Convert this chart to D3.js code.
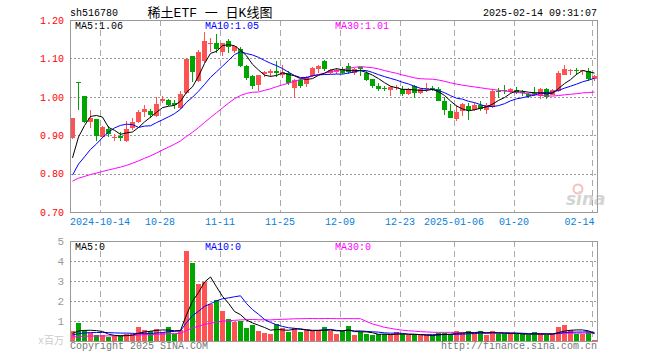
<!DOCTYPE html>
<html>
<head>
<meta charset="utf-8">
<script src="https://cdn.jsdelivr.net/npm/d3@7"></script>
<style>
  body { margin: 0; background: #fff; }
  text { font-family: "Liberation Mono", "DejaVu Sans Mono", monospace; }
</style>
</head>
<body>
<svg id="chart" width="660" height="360"></svg>
<script>
// trading days shown on the chart
const dates = [
  '2024-09-30',
  '2024-10-08', '2024-10-09', '2024-10-10', '2024-10-11',
  '2024-10-14', '2024-10-15', '2024-10-16', '2024-10-17', '2024-10-18',
  '2024-10-21', '2024-10-22', '2024-10-23', '2024-10-24', '2024-10-25',
  '2024-10-28', '2024-10-29', '2024-10-30', '2024-10-31', '2024-11-01',
  '2024-11-04', '2024-11-05', '2024-11-06', '2024-11-07', '2024-11-08',
  '2024-11-11', '2024-11-12', '2024-11-13', '2024-11-14', '2024-11-15',
  '2024-11-18', '2024-11-19', '2024-11-20', '2024-11-21', '2024-11-22',
  '2024-11-25', '2024-11-26', '2024-11-27', '2024-11-28', '2024-11-29',
  '2024-12-02', '2024-12-03', '2024-12-04', '2024-12-05', '2024-12-06',
  '2024-12-09', '2024-12-10', '2024-12-11', '2024-12-12', '2024-12-13',
  '2024-12-16', '2024-12-17', '2024-12-18', '2024-12-19', '2024-12-20',
  '2024-12-23', '2024-12-24', '2024-12-25', '2024-12-26', '2024-12-27',
  '2024-12-30', '2024-12-31', '2025-01-02', '2025-01-03',
  '2025-01-06', '2025-01-07', '2025-01-08', '2025-01-09', '2025-01-10',
  '2025-01-13', '2025-01-14', '2025-01-15', '2025-01-16', '2025-01-17',
  '2025-01-20', '2025-01-21', '2025-01-22', '2025-01-23', '2025-01-24',
  '2025-01-27',
  '2025-02-05', '2025-02-06', '2025-02-07',
  '2025-02-10', '2025-02-11', '2025-02-12', '2025-02-13', '2025-02-14'
];

const open = [
  0.892, 1.039, 1.001, 0.934, 0.941, 0.896, 0.915, 0.894, 0.898, 0.886,
  0.918, 0.935, 0.960, 0.964, 0.951, 0.990, 0.992, 0.985, 0.971, 1.010,
  1.107, 1.042, 1.093, 1.136, 1.140, 1.117, 1.146, 1.117, 1.125, 1.081,
  1.055, 1.029, 1.058, 1.062, 1.068, 1.056, 1.062, 1.023, 1.045, 1.032,
  1.053, 1.072, 1.094, 1.062, 1.065, 1.072, 1.081, 1.062, 1.077, 1.062,
  1.046, 1.029, 1.022, 1.016, 1.023, 1.020, 1.007, 1.029, 1.010, 1.022,
  1.022, 1.021, 0.988, 0.964, 0.941, 0.964, 0.975, 0.964, 0.978, 0.964,
  0.975, 1.016, 1.017, 1.012, 1.019, 1.012, 1.007, 1.010, 1.001, 1.020,
  1.007, 1.014, 1.058, 1.070, 1.069, 1.067, 1.068, 1.047
];
const high = [
  0.946, 1.039, 1.002, 0.965, 0.942, 0.923, 0.925, 0.903, 0.909, 0.938,
  0.945, 0.966, 0.979, 0.967, 0.999, 1.001, 0.994, 0.991, 1.016, 1.101,
  1.107, 1.121, 1.170, 1.153, 1.163, 1.141, 1.151, 1.133, 1.129, 1.082,
  1.056, 1.057, 1.068, 1.073, 1.094, 1.082, 1.068, 1.047, 1.047, 1.053,
  1.077, 1.084, 1.095, 1.073, 1.074, 1.077, 1.088, 1.075, 1.078, 1.066,
  1.047, 1.036, 1.027, 1.027, 1.031, 1.027, 1.023, 1.031, 1.023, 1.036,
  1.027, 1.025, 0.999, 0.980, 0.978, 0.984, 0.984, 0.983, 0.988, 0.983,
  1.021, 1.023, 1.031, 1.023, 1.025, 1.019, 1.010, 1.025, 1.023, 1.023,
  1.020, 1.068, 1.082, 1.072, 1.075, 1.070, 1.075, 1.057
];
const low = [
  0.889, 0.966, 0.932, 0.918, 0.886, 0.893, 0.895, 0.886, 0.885, 0.883,
  0.914, 0.933, 0.947, 0.945, 0.948, 0.984, 0.975, 0.968, 0.969, 1.008,
  1.038, 1.039, 1.089, 1.116, 1.113, 1.105, 1.114, 1.113, 1.077, 1.045,
  1.020, 1.016, 1.051, 1.051, 1.051, 1.049, 1.032, 0.997, 1.023, 1.025,
  1.052, 1.063, 1.068, 1.060, 1.060, 1.059, 1.059, 1.058, 1.053, 1.042,
  1.022, 1.016, 1.014, 1.003, 1.019, 1.001, 1.004, 0.998, 1.007, 1.012,
  1.014, 0.988, 0.952, 0.945, 0.936, 0.950, 0.940, 0.962, 0.964, 0.955,
  0.972, 0.997, 1.006, 1.010, 1.006, 1.001, 0.997, 1.001, 0.995, 0.994,
  1.005, 1.012, 1.056, 1.058, 1.058, 1.058, 1.042, 1.042
];
const close = [
  0.944, 1.036, 0.934, 0.945, 0.898, 0.922, 0.903, 0.896, 0.892, 0.917,
  0.934, 0.961, 0.969, 0.953, 0.981, 0.995, 0.979, 0.980, 1.007, 1.098,
  1.066, 1.117, 1.145, 1.139, 1.125, 1.140, 1.130, 1.131, 1.082, 1.051,
  1.029, 1.056, 1.064, 1.066, 1.062, 1.064, 1.036, 1.045, 1.030, 1.051,
  1.075, 1.079, 1.072, 1.071, 1.069, 1.062, 1.066, 1.073, 1.071, 1.045,
  1.027, 1.021, 1.020, 1.025, 1.025, 1.006, 1.021, 1.012, 1.020, 1.024,
  1.020, 0.990, 0.964, 0.947, 0.960, 0.981, 0.965, 0.978, 0.967, 0.978,
  1.016, 1.014, 1.015, 1.021, 1.012, 1.010, 1.002, 1.008, 1.020, 0.998,
  1.019, 1.062, 1.073, 1.071, 1.067, 1.069, 1.047, 1.055
];
// volume in millions of shares
const volume = [
  0.48, 0.88, 0.53, 0.42, 0.28, 0.28, 0.20, 0.23, 0.28, 0.37,
  0.37, 0.70, 0.53, 0.48, 0.58, 0.47, 0.68, 0.35, 0.55, 4.50,
  3.88, 2.83, 2.97, 1.83, 2.03, 1.50, 1.10, 0.93, 1.02, 0.67,
  0.80, 0.52, 0.38, 0.33, 0.87, 0.67, 0.43, 0.67, 0.43, 0.55,
  0.50, 0.50, 0.68, 0.50, 0.37, 0.48, 0.73, 0.28, 0.45, 0.33,
  0.28, 0.33, 0.33, 0.33, 0.43, 0.33, 0.28, 0.28, 0.28, 0.28,
  0.28, 0.40, 0.40, 0.33, 0.48, 0.40, 0.48, 0.40, 0.48, 0.28,
  0.48, 0.37, 0.37, 0.37, 0.33, 0.33, 0.28, 0.43, 0.37, 0.28,
  0.37, 0.68, 0.78, 0.57, 0.37, 0.37, 0.45, 0.07
];

// sessions before 2024-09-30 (off the chart), estimated so the moving
// averages start where the picture shows them; these are never drawn
const priorClose = [
  0.800, 0.797, 0.795, 0.792, 0.790, 0.787, 0.784, 0.781, 0.778, 0.775,
  0.772, 0.768, 0.764, 0.760, 0.757, 0.754, 0.751, 0.749, 0.747, 0.745,
  0.748, 0.745, 0.752, 0.755, 0.755, 0.765, 0.785, 0.826, 0.885
];
const priorVolume = [
  0.16, 0.14, 0.15, 0.17, 0.15, 0.13, 0.14, 0.16, 0.15, 0.14,
  0.13, 0.15, 0.16, 0.14, 0.15, 0.17, 0.16, 0.15, 0.14, 0.15,
  0.20, 0.21, 0.22, 0.23, 0.24, 0.30, 0.36, 0.38, 0.38
];

const priceTicks = [0.7, 0.8, 0.9, 1.0, 1.1, 1.2];
const volumeTicks = [1, 2, 3, 4, 5];
const dateTicks = ['2024-10-14', '2024-10-28', '2024-11-11', '2024-11-25', '2024-12-09',
                   '2024-12-23', '2025-01-06', '2025-01-20', '2025-02-14'];
const dateTickLabels = ['2024-10-14', '10-28', '11-11', '11-25', '12-09',
                        '12-23', '2025-01-06', '01-20', '02-14'];

const UP = '#ff5353', DOWN = '#00a600';
const MA_COLORS = { 5: '#000000', 10: '#0000ff', 30: '#ff00ff' };

// panel bounds
const left = 70, right = 597;
const top1 = 20, bottom1 = 212;
const top2 = 241, bottom2 = 341;

const svg = d3.select('#chart');
svg.append('rect').attr('width', 660).attr('height', 360).attr('fill', '#fff');

const x = d3.scaleBand().domain(dates).range([left, right]).paddingInner(1 / 6).paddingOuter(0);
const bw = x.bandwidth();
const cx = d => Math.round(x(d)) + Math.floor(bw / 2) + 0.5;

const y = d3.scaleLinear().domain([0.7, 1.2]).range([bottom1, top1]);
const vy = d3.scaleLinear().domain([0, 5]).range([bottom2, top2]);

function movingAvg(values, prior, n) {
  const all = prior.concat(values);
  return values.map((v, i) => {
    const end = prior.length + i + 1;
    return d3.mean(all.slice(Math.max(0, end - n), end));
  });
}

const defs = svg.append('defs');
defs.append('clipPath').attr('id', 'clip1')
  .append('rect').attr('x', left).attr('y', top1).attr('width', right - left).attr('height', bottom1 - top1);
defs.append('clipPath').attr('id', 'clip2')
  .append('rect').attr('x', left).attr('y', top2).attr('width', right - left).attr('height', bottom2 - top2);

// ---- grid ----
function grid(top, bottom, scale, values) {
  const g = svg.append('g');
  g.selectAll('line.h').data(values).enter().append('line')
    .attr('x1', left).attr('x2', right)
    .attr('y1', d => Math.round(scale(d)) + 0.5).attr('y2', d => Math.round(scale(d)) + 0.5)
    .attr('stroke', '#999').attr('stroke-dasharray', '2,2');
  g.selectAll('line.v').data(dateTicks).enter().append('line')
    .attr('x1', d => Math.round(x(d)) + 0.5).attr('x2', d => Math.round(x(d)) + 0.5)
    .attr('y1', top).attr('y2', bottom)
    .attr('stroke', '#aaa').attr('stroke-dasharray', '6,4');
}
grid(top1, bottom1, y, [0.8, 0.9, 1.0, 1.1]);
grid(top2, bottom2, vy, [1, 2, 3, 4]);

// ---- candles ----
const candles = dates.map((d, i) => ({ d, o: open[i], h: high[i], l: low[i], c: close[i], v: volume[i] }));
const colorOf = k => (k.c >= k.o ? UP : DOWN);

const main = svg.append('g').attr('clip-path', 'url(#clip1)');
main.selectAll('line.wick').data(candles).enter().append('line')
  .attr('x1', k => cx(k.d)).attr('x2', k => cx(k.d))
  .attr('y1', k => Math.round(y(k.h))).attr('y2', k => Math.round(y(k.l)))
  .attr('stroke', colorOf).attr('stroke-width', 1);
main.selectAll('rect.body').data(candles).enter().append('rect')
  .attr('x', k => Math.round(x(k.d)))
  .attr('width', Math.round(bw))
  .attr('y', k => Math.round(y(Math.max(k.o, k.c))))
  .attr('height', k => Math.max(1, Math.round(Math.abs(y(k.o) - y(k.c)))))
  .attr('fill', colorOf);

// ---- price moving averages ----
[30, 10, 5].forEach(n => {
  const ma = movingAvg(close, priorClose, n);
  main.append('path')
    .datum(ma)
    .attr('fill', 'none')
    .attr('stroke', MA_COLORS[n])
    .attr('stroke-width', 1)
    .attr('d', d3.line().x((v, i) => cx(dates[i])).y(v => y(v)));
});

// ---- volume bars ----
const vol = svg.append('g').attr('clip-path', 'url(#clip2)');
vol.selectAll('rect').data(candles).enter().append('rect')
  .attr('x', k => Math.round(x(k.d)))
  .attr('width', Math.round(bw))
  .attr('y', k => Math.round(vy(k.v)))
  .attr('height', k => bottom2 - Math.round(vy(k.v)))
  .attr('fill', colorOf);

[30, 10, 5].forEach(n => {
  const ma = movingAvg(volume, priorVolume, n);
  vol.append('path')
    .datum(ma)
    .attr('fill', 'none')
    .attr('stroke', MA_COLORS[n])
    .attr('stroke-width', 1)
    .attr('d', d3.line().x((v, i) => cx(dates[i])).y(v => vy(v)));
});

// ---- frames ----
[[top1, bottom1], [top2, bottom2]].forEach(([t, b]) => {
  svg.append('rect').attr('x', left + 0.5).attr('y', t + 0.5)
    .attr('width', right - left).attr('height', b - t)
    .attr('fill', 'none').attr('stroke', '#999');
});

// ---- axes ----
const yAxis = svg.append('g').attr('transform', `translate(${left},0)`)
  .call(d3.axisLeft(y).tickValues(priceTicks).tickFormat(d3.format('.2f')).tickSize(0).tickPadding(6));
yAxis.select('.domain').remove();
yAxis.selectAll('text').attr('fill', '#ff0000').attr('font-size', 10)
  .style('font-family', '"Liberation Mono", monospace');

const vAxis = svg.append('g').attr('transform', `translate(${left},0)`)
  .call(d3.axisLeft(vy).tickValues(volumeTicks).tickFormat(d3.format('d')).tickSize(0).tickPadding(6));
vAxis.select('.domain').remove();
vAxis.selectAll('text').attr('fill', '#999').attr('font-size', 11)
  .style('font-family', '"Liberation Mono", monospace');

const xAxis = svg.append('g').attr('transform', `translate(${-bw / 2},${bottom1})`)
  .call(d3.axisBottom(x).tickValues(dateTicks)
    .tickFormat(d => dateTickLabels[dateTicks.indexOf(d)]).tickSize(0).tickPadding(6));
xAxis.select('.domain').remove();
xAxis.selectAll('text').attr('fill', '#0a80d8').attr('font-size', 10)
  .style('font-family', '"Liberation Mono", monospace')
  .each(function () {
    const b = this.getBBox();
    const tx = this.parentNode.transform.baseVal.consolidate().matrix.e - bw / 2;
    if (tx + b.width / 2 > right) d3.select(this).attr('text-anchor', 'end').attr('x', bw / 2);
  });

// ---- texts ----
function label(txt, px, py, color, size, anchor) {
  return svg.append('text').attr('x', px).attr('y', py)
    .attr('fill', color).attr('font-size', size || 10)
    .attr('text-anchor', anchor || 'start').text(txt);
}
label('sh516780', 70, 16, '#000');
label('稀土ETF 一 日K线图', 210, 17, '#000', 13, 'middle')
  .style('font-family', '"Liberation Mono", "Noto Sans CJK SC", monospace');
label('2025-02-14 09:31:07', 597, 16, '#000', 10, 'end');

label('MA5:1.06', 75, 29, MA_COLORS[5]);
label('MA10:1.05', 205, 29, MA_COLORS[10]);
label('MA30:1.01', 335, 29, MA_COLORS[30]);

label('MA5:0', 75, 250, MA_COLORS[5]);
label('MA10:0', 205, 250, MA_COLORS[10]);
label('MA30:0', 335, 250, MA_COLORS[30]);

label('x百万', 64, 344, '#ccc', 10, 'end')
  .style('font-family', '"Liberation Mono", "Noto Sans CJK SC", monospace');
label('Copyright 2025 SINA.COM', 70, 349, '#777');
label('http://finance.sina.com.cn', 597, 349, '#777', 10, 'end');

// sina watermark
const wm = svg.append('g').attr('opacity', 0.5);
wm.append('circle').attr('cx', 578).attr('cy', 189).attr('r', 4.5)
  .attr('fill', 'none').attr('stroke', '#f08080').attr('stroke-width', 2);
wm.append('text').attr('x', 566).attr('y', 205).attr('fill', '#aaa')
  .attr('font-size', 17).attr('font-style', 'italic').attr('font-weight', 'bold')
  .style('font-family', '"DejaVu Sans", sans-serif').text('sina');
</script>
</body>
</html>
